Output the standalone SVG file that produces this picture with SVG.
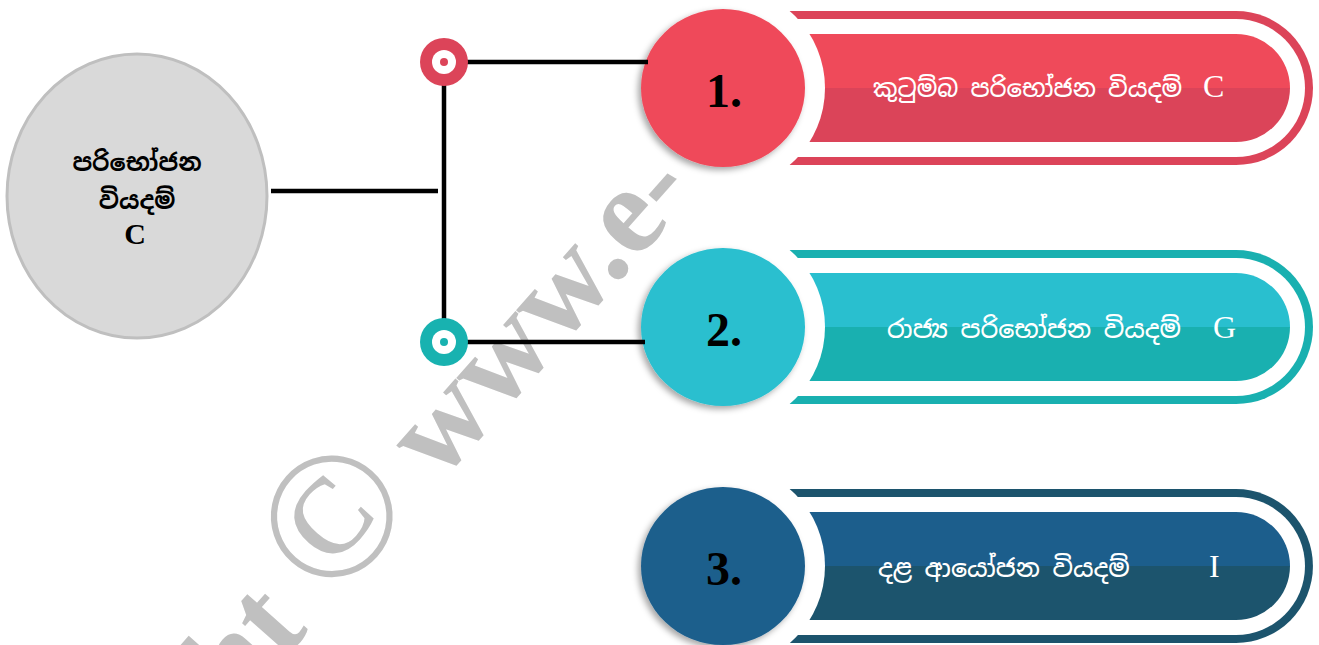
<svg xmlns="http://www.w3.org/2000/svg" width="1319" height="645" viewBox="0 0 1319 645">
  <defs>
    <style>
      .si { font-family: "Noto Sans Sinhala", "Noto Serif Sinhala", "Iskoola Pota", "Noto Sans", sans-serif; }
      .lat { font-family: "Liberation Serif", "Times New Roman", serif; }
      .root-t { font-size: 24px; font-weight: bold; fill: #000; }
      .root-c { font-size: 30px; font-weight: bold; fill: #000; }
      .num { font-family: "Liberation Serif", "Times New Roman", serif; font-size: 48px; font-weight: bold; fill: #000; text-anchor: middle; }
      .bar-t { font-size: 25px; font-weight: 500; fill: #fff; }
      .bar-l { font-family: "Liberation Serif", "Times New Roman", serif; font-size: 32px; fill: #fff; }
      .conn { stroke: #000; stroke-width: 4.5; fill: none; }
      .wm { font-family: "Liberation Serif", "Times New Roman", serif; font-weight: bold; font-size: 125px; fill: #c0c0c0; }
    </style>
    <filter id="sh" x="-30%" y="-30%" width="160%" height="160%">
      <feDropShadow dx="-3" dy="3" stdDeviation="3" flood-color="#000" flood-opacity="0.35"/>
    </filter>
    <linearGradient id="g1" x1="0" y1="0" x2="0" y2="1">
      <stop offset="0.5" stop-color="#ef4a5a"/><stop offset="0.5" stop-color="#db4459"/>
    </linearGradient>
    <linearGradient id="g2" x1="0" y1="0" x2="0" y2="1">
      <stop offset="0.5" stop-color="#29bfcf"/><stop offset="0.5" stop-color="#19b0b0"/>
    </linearGradient>
    <linearGradient id="g3" x1="0" y1="0" x2="0" y2="1">
      <stop offset="0.5" stop-color="#1c5e8c"/><stop offset="0.5" stop-color="#1c546d"/>
    </linearGradient>
  </defs>

  <rect width="1319" height="645" fill="#fff"/>

  <!-- watermark -->
  <text class="wm" transform="translate(699,190) rotate(-48.5)" text-anchor="end">Copyright <tspan style="font-size:180px;font-weight:normal">©</tspan><tspan dx="-4"> www.e-</tspan></text>

  <!-- root node -->
  <g id="root">
    <ellipse cx="137" cy="196" rx="130" ry="142" fill="#d9d9d9" stroke="#bfbfbf" stroke-width="3"/>
    <text class="si root-t" x="137" y="171" text-anchor="middle">පරිභෝජන</text>
    <text class="si root-t" x="137" y="209" text-anchor="middle">වියදම්</text>
    <text class="lat root-c" x="135" y="244" text-anchor="middle">C</text>
  </g>

  <!-- item 1 -->
  <g id="item-1">
    <path d="M700 11 H1236 A77 77 0 0 1 1236 165 H700 Z" fill="#dc4459"/>
    <path d="M700 19 H1236 A69 69 0 0 1 1236 157 H700 Z" fill="#fff"/>
    <path d="M700 34 H1236 A54 54 0 0 1 1236 142 H700 Z" fill="url(#g1)"/>
    <circle cx="723" cy="88" r="102" fill="#fff"/>
    <ellipse cx="723" cy="88" rx="82" ry="79" fill="#ef4a5a" filter="url(#sh)"/>
    <text class="num" x="724" y="107">1.</text>
    <text class="si bar-t" x="873" y="97" style="font-size:24px">කුටුම්බ පරිභෝජන වියදම්</text>
    <text class="bar-l" x="1203" y="97">C</text>
  </g>

  <!-- item 2 -->
  <g id="item-2">
    <path d="M700 250 H1236 A77 77 0 0 1 1236 404 H700 Z" fill="#19b0b0"/>
    <path d="M700 258 H1236 A69 69 0 0 1 1236 396 H700 Z" fill="#fff"/>
    <path d="M700 273 H1236 A54 54 0 0 1 1236 381 H700 Z" fill="url(#g2)"/>
    <circle cx="723" cy="327" r="102" fill="#fff"/>
    <ellipse cx="723" cy="327" rx="82" ry="79" fill="#29bfcf" filter="url(#sh)"/>
    <text class="num" x="724" y="346">2.</text>
    <text class="si bar-t" x="887" y="338">රාජ්‍ය පරිභෝජන වියදම්</text>
    <text class="bar-l" x="1213" y="338">G</text>
  </g>

  <!-- item 3 -->
  <g id="item-3">
    <path d="M700 489 H1236 A77 77 0 0 1 1236 643 H700 Z" fill="#1c546d"/>
    <path d="M700 497 H1236 A69 69 0 0 1 1236 635 H700 Z" fill="#fff"/>
    <path d="M700 512 H1236 A54 54 0 0 1 1236 620 H700 Z" fill="url(#g3)"/>
    <circle cx="723" cy="566" r="102" fill="#fff"/>
    <ellipse cx="723" cy="566" rx="82" ry="79" fill="#1c5e8c" filter="url(#sh)"/>
    <text class="num" x="724" y="585">3.</text>
    <text class="si bar-t" x="878" y="577">දළ ආයෝජන වියදම්</text>
    <text class="bar-l" x="1209" y="577">I</text>
  </g>

  <!-- connectors -->
  <g id="connectors">
    <line class="conn" x1="271" y1="191" x2="438" y2="191"/>
    <line class="conn" x1="444" y1="62" x2="444" y2="342"/>
    <line class="conn" x1="444" y1="62" x2="648" y2="62"/>
    <line class="conn" x1="444" y1="342" x2="645" y2="342"/>
  </g>

  <!-- junction nodes -->
  <g id="junction-1">
    <circle cx="444" cy="62" r="24" fill="#dc4459"/>
    <circle cx="444" cy="62" r="12" fill="#fff"/>
    <circle cx="444" cy="62" r="4" fill="#dc4459"/>
  </g>
  <g id="junction-2">
    <circle cx="444" cy="342" r="24" fill="#18b2b0"/>
    <circle cx="444" cy="342" r="12" fill="#fff"/>
    <circle cx="444" cy="342" r="4" fill="#18b2b0"/>
  </g>
</svg>
